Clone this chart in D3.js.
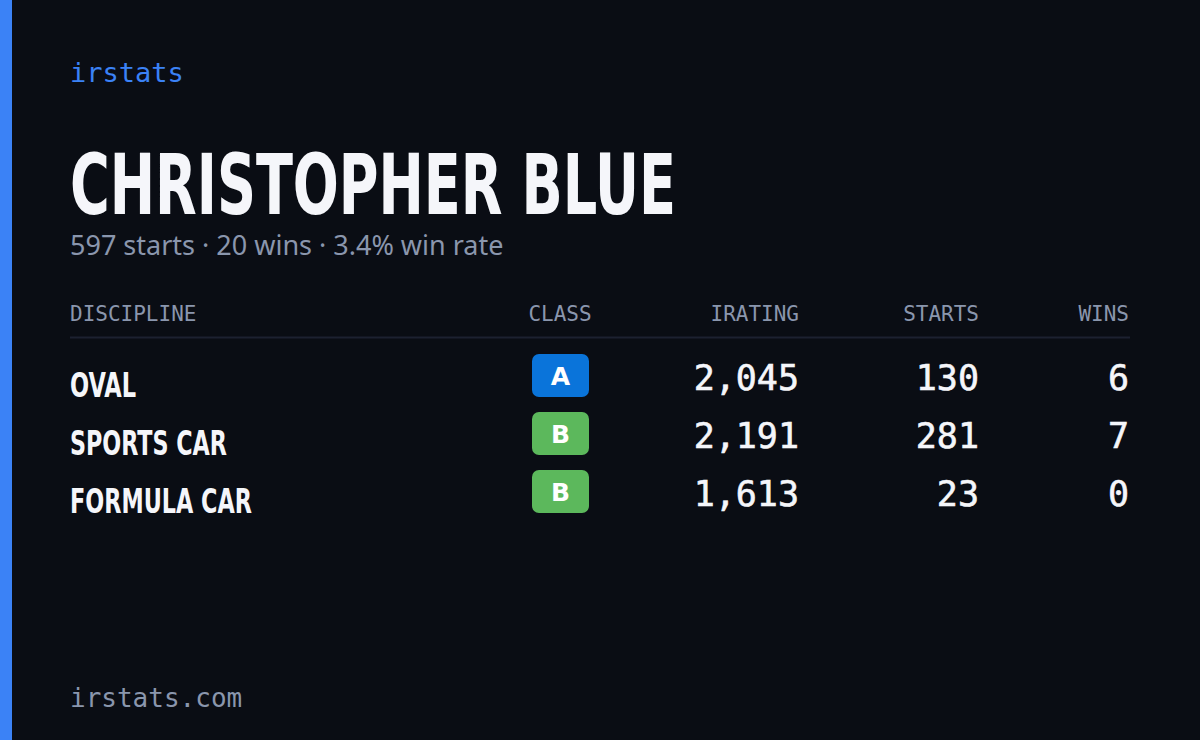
<!DOCTYPE html>
<html><head><meta charset="utf-8">
<script src="https://cdn.jsdelivr.net/npm/d3@7"></script>
<style>body{margin:0;background:#0a0d14;}svg{display:block;}</style>
</head><body>
<div id="chart"></div>
<script>
// data
const disciplines = ["OVAL", "SPORTS CAR", "FORMULA CAR"];
const classes = ["A", "B", "B"];
const iratings = [2045, 2191, 1613];
const starts = [130, 281, 23];
const wins = [6, 7, 0];
const headers = ["DISCIPLINE", "CLASS", "IRATING", "STARTS", "WINS"];
// career totals shown in the summary line (include disciplines not listed)
const totalStarts = 597, totalWins = 20;
const classColors = {A: "#0a74da", B: "#5cb85c"};

const W = 1200, H = 740;
const mono = "'DejaVu Sans Mono', 'Liberation Mono', monospace";
const cond = "'Liberation Sans Narrow', 'DejaVu Sans Condensed', sans-serif";

const svg = d3.select("#chart").append("svg").attr("width", W).attr("height", H);
svg.append("rect").attr("width", W).attr("height", H).attr("fill", "#0a0d14");
svg.append("rect").attr("width", 12).attr("height", H).attr("fill", "#3b82f6");

svg.append("text").attr("x", 70).attr("y", 82).text("irstats")
  .attr("font-family", mono).attr("font-size", 27).attr("fill", "#3b82f6");

svg.append("text").attr("x", 70).attr("y", 214).text("CHRISTOPHER BLUE")
  .attr("font-family", cond).attr("font-weight", "bold").attr("font-size", 84)
  .attr("fill", "#f5f6fa").attr("textLength", 606).attr("lengthAdjust", "spacingAndGlyphs");

svg.append("text").attr("x", 70).attr("y", 255)
  .text(`${totalStarts} starts · ${totalWins} wins · ${(totalWins / totalStarts * 100).toFixed(1)}% win rate`)
  .attr("font-family", "'Noto Sans', sans-serif").attr("font-size", 27).attr("fill", "#8a96ad");

const colX = [70, 560, 799, 979, 1129];
const colAnchor = ["start", "middle", "end", "end", "end"];

svg.selectAll("text.hdr").data(headers).join("text").attr("class", "hdr")
  .attr("x", (d, i) => colX[i]).attr("y", 321).attr("text-anchor", (d, i) => colAnchor[i])
  .attr("font-family", mono).attr("font-size", 21).attr("fill", "#8a96ad").text(d => d);

svg.append("line").attr("x1", 70).attr("x2", 1130).attr("y1", 337.5).attr("y2", 337.5)
  .attr("stroke", "#1c2130").attr("stroke-width", 2);

const y = d3.scaleBand().domain(d3.range(disciplines.length)).range([346, 520]);
const fmt = d3.format(",");

const rows = svg.selectAll("g.row").data(disciplines).join("g").attr("class", "row")
  .attr("transform", (d, i) => `translate(0,${y(i)})`);

rows.append("text").attr("x", 70).attr("y", 51).text(d => d)
  .attr("font-family", cond).attr("font-weight", "bold").attr("font-size", 33)
  .attr("fill", "#f5f6fa").attr("textLength", (d, i) => [66, 157, 182][i])
  .attr("lengthAdjust", "spacingAndGlyphs");

rows.append("rect").attr("x", 532).attr("y", 8).attr("width", 57).attr("height", 43).attr("rx", 7)
  .attr("fill", (d, i) => classColors[classes[i]]);
rows.append("text").attr("x", 560.5).attr("y", 39).attr("text-anchor", "middle")
  .attr("font-family", "'DejaVu Sans', sans-serif").attr("font-weight", "bold").attr("font-size", 25)
  .attr("fill", "#fff").text((d, i) => classes[i]);

const numCols = [[iratings, 799], [starts, 979], [wins, 1129]];
numCols.forEach(([arr, x]) => {
  rows.append("text").attr("x", x).attr("y", 44).attr("text-anchor", "end")
    .attr("font-family", mono).attr("font-size", 35).attr("fill", "#f5f6fa")
    .attr("stroke", "#f5f6fa").attr("stroke-width", 0.6)
    .text((d, i) => fmt(arr[i]));
});

svg.append("text").attr("x", 70).attr("y", 707).text("irstats.com")
  .attr("font-family", mono).attr("font-size", 26).attr("fill", "#8a96ad");
</script>
</body></html>
